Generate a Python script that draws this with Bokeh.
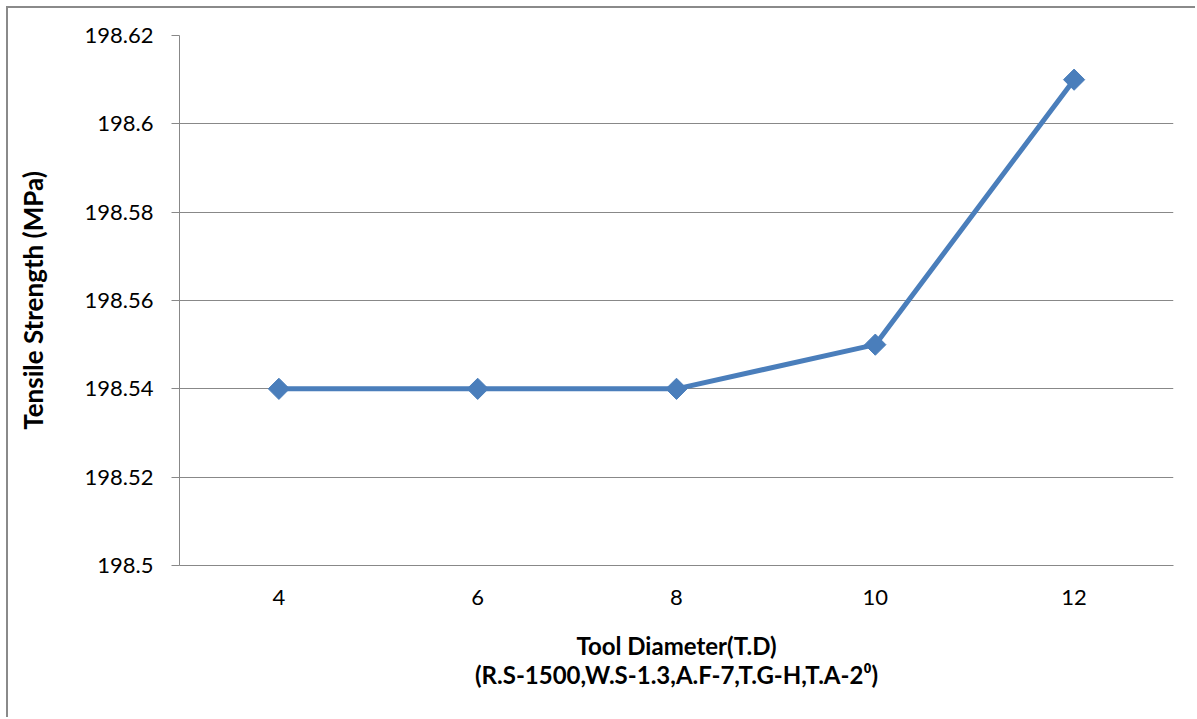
from bokeh.plotting import figure
from bokeh.models import FactorRange, Range1d, FixedTicker, CustomJSTickFormatter
from bokeh.embed import file_html
from bokeh.resources import INLINE
import math

categories = ["4", "6", "8", "10", "12"]
tensile = [198.54, 198.54, 198.54, 198.55, 198.61]
y_ticks = [198.5, 198.52, 198.54, 198.56, 198.58, 198.6, 198.62]

BLUE = "#4A7EBB"
GRID = "#888888"
FONT = "Lato"

p = figure(width=1189, height=711, x_range=FactorRange(*categories, range_padding=0),
           y_range=Range1d(198.5, 198.62), output_backend="svg", toolbar_location=None,
           min_border_left=171, min_border_right=24, min_border_top=27, min_border_bottom=154)
p.styles = {"margin-left": "6px", "margin-top": "6px",
            "border-left": "2px solid #8a8a8a", "border-top": "2px solid #8a8a8a"}

p.outline_line_color = None
p.xgrid.grid_line_color = None
p.ygrid.grid_line_color = GRID
p.ygrid.grid_line_width = 1

p.line(categories, tensile, line_color=BLUE, line_width=5)
p.scatter(categories, tensile, marker="square", size=15, angle=math.pi / 4,
          fill_color=BLUE, line_color=BLUE)

# y axis
ya = p.yaxis[0]
ya.ticker = FixedTicker(ticks=y_ticks)
ya.formatter = CustomJSTickFormatter(code="return Number(tick.toFixed(2)).toString();")
ya.axis_line_color = GRID
ya.major_tick_line_color = GRID
ya.major_tick_out = 8
ya.major_tick_in = 0
ya.minor_tick_line_color = None
ya.major_label_standoff = 18
ya.major_label_text_font = FONT
ya.major_label_text_font_size = "22px"
ya.major_label_text_color = "black"
ya.axis_label = "Tensile Strength (MPa)"
ya.axis_label_text_font = FONT
ya.axis_label_text_font_style = "bold"
ya.axis_label_text_font_size = "26px"
ya.axis_label_text_color = "black"
ya.axis_label_standoff = 33

# x axis
xa = p.xaxis[0]
xa.axis_line_color = GRID
xa.major_tick_line_color = None
xa.major_tick_out = 0
xa.major_tick_in = 0
xa.minor_tick_line_color = None
xa.major_label_standoff = 24
xa.major_label_text_font = FONT
xa.major_label_text_font_size = "22px"
xa.major_label_text_color = "black"
xa.axis_label = "Tool Diameter(T.D)\n(R.S-1500,W.S-1.3,A.F-7,T.G-H,T.A-2\u2070)"
xa.axis_label_text_font = FONT
xa.axis_label_text_font_style = "bold"
xa.axis_label_text_font_size = "24px"
xa.axis_label_text_color = "black"
xa.axis_label_text_line_height = 1.0
xa.axis_label_standoff = 23

open("out.html", "w").write(file_html(p, INLINE))
